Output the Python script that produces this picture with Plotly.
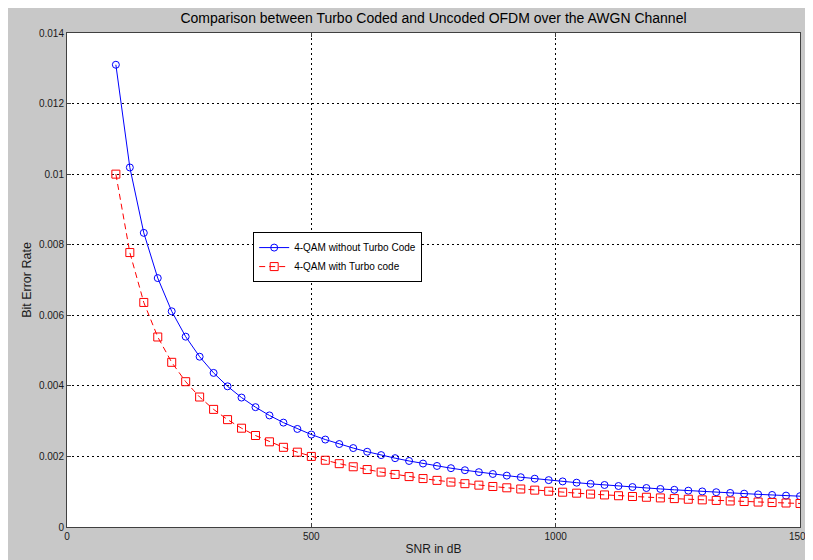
import plotly.graph_objects as go

snr_db = [100.0, 128.571, 157.143, 185.714, 214.286, 242.857, 271.429, 300.0, 328.571, 357.143,
          385.714, 414.286, 442.857, 471.429, 500.0, 528.571, 557.143, 585.714, 614.286, 642.857,
          671.429, 700.0, 728.571, 757.143, 785.714, 814.286, 842.857, 871.429, 900.0, 928.571,
          957.143, 985.714, 1014.286, 1042.857, 1071.429, 1100.0, 1128.571, 1157.143, 1185.714, 1214.286,
          1242.857, 1271.429, 1300.0, 1328.571, 1357.143, 1385.714, 1414.286, 1442.857, 1471.429, 1500.0]

ber_uncoded = [0.013100, 0.010189, 0.008336, 0.007054, 0.006113, 0.005394, 0.004826, 0.004367, 0.003987, 0.003668,
               0.003396, 0.003162, 0.002958, 0.002779, 0.002620, 0.002478, 0.002351, 0.002237, 0.002133, 0.002038,
               0.001951, 0.001871, 0.001798, 0.001730, 0.001667, 0.001609, 0.001554, 0.001503, 0.001456, 0.001411,
               0.001369, 0.001329, 0.001292, 0.001256, 0.001223, 0.001191, 0.001161, 0.001132, 0.001105, 0.001079,
               0.001054, 0.001030, 0.001008, 0.000986, 0.000965, 0.000945, 0.000926, 0.000908, 0.000890, 0.000873]

ber_turbo = [0.010000, 0.007778, 0.006364, 0.005385, 0.004667, 0.004118, 0.003684, 0.003333, 0.003043, 0.002800,
             0.002593, 0.002414, 0.002258, 0.002121, 0.002000, 0.001892, 0.001795, 0.001707, 0.001628, 0.001556,
             0.001489, 0.001429, 0.001373, 0.001321, 0.001273, 0.001228, 0.001186, 0.001148, 0.001111, 0.001077,
             0.001045, 0.001014, 0.000986, 0.000959, 0.000933, 0.000909, 0.000886, 0.000864, 0.000843, 0.000824,
             0.000805, 0.000787, 0.000769, 0.000753, 0.000737, 0.000722, 0.000707, 0.000693, 0.000680, 0.000667]

x_ticks = [0, 500, 1000, 1500]
y_ticks = [0, 0.002, 0.004, 0.006, 0.008, 0.01, 0.012, 0.014]
y_tick_labels = ["0", "0.002", "0.004", "0.006", "0.008", "0.01", "0.012", "0.014"]

FONT = "Liberation Sans, Arial, sans-serif"
TEXT = "#1a1a1a"
AXIS = "#404040"

fig = go.Figure()
fig.add_trace(go.Scatter(
    x=snr_db, y=ber_uncoded, mode="lines+markers", name="4-QAM without Turbo Code",
    line=dict(color="#0000ff", width=1),
    marker=dict(symbol="circle-open", size=7, color="#0000ff", line=dict(width=1)),
))
fig.add_trace(go.Scatter(
    x=snr_db, y=ber_turbo, mode="lines+markers", name="4-QAM with Turbo code",
    line=dict(color="#ff0000", width=1, dash="6px,4px"),
    marker=dict(symbol="square-open", size=8, color="#ff0000", line=dict(width=1)),
))

fig.update_layout(
    width=805, height=552,
    margin=dict(l=59, r=13, t=25, b=33, autoexpand=False),
    paper_bgcolor="#c8c8c8", plot_bgcolor="white",
    font=dict(family=FONT, size=10, color=TEXT),
    title=dict(text="Comparison between Turbo Coded and Uncoded OFDM over the AWGN Channel",
               x=0.5, xref="paper", xanchor="center", y=1 - 10 / 552, yref="container",
               yanchor="middle", automargin=False,
               font=dict(family=FONT, size=14, color="#000000")),
    showlegend=True,
    legend=dict(x=0.254, y=0.597, xanchor="left", yanchor="top",
                bgcolor="white", bordercolor="#000000", borderwidth=1,
                font=dict(family=FONT, size=10, color="#000000"),
                tracegroupgap=0, itemwidth=30),
    xaxis=dict(range=[0, 1500], tickvals=x_ticks, ticktext=[str(v) for v in x_ticks],
               automargin=False, ticklabeloverflow="allow",
               showgrid=True, gridcolor="#000000", gridwidth=1, griddash="2px,3px",
               showline=True, linecolor=AXIS, linewidth=1, mirror="ticks",
               ticks="inside", ticklen=4, tickcolor=AXIS, zeroline=False,
               title=dict(text="SNR in dB", standoff=3, font=dict(family=FONT, size=12, color=TEXT)),
               tickfont=dict(family=FONT, size=10, color=TEXT)),
    yaxis=dict(range=[0, 0.014], tickvals=y_ticks, ticktext=y_tick_labels,
               automargin=False,
               showgrid=True, gridcolor="#000000", gridwidth=1, griddash="2px,3px",
               showline=True, linecolor=AXIS, linewidth=1, mirror="ticks",
               ticks="inside", ticklen=4, tickcolor=AXIS, zeroline=False,
               title=dict(text="Bit Error Rate", standoff=4, font=dict(family=FONT, size=12.5, color=TEXT)),
               tickfont=dict(family=FONT, size=10, color=TEXT)),
)

fig.write_html("out.html", post_script="document.body.style.overflow='hidden';")
